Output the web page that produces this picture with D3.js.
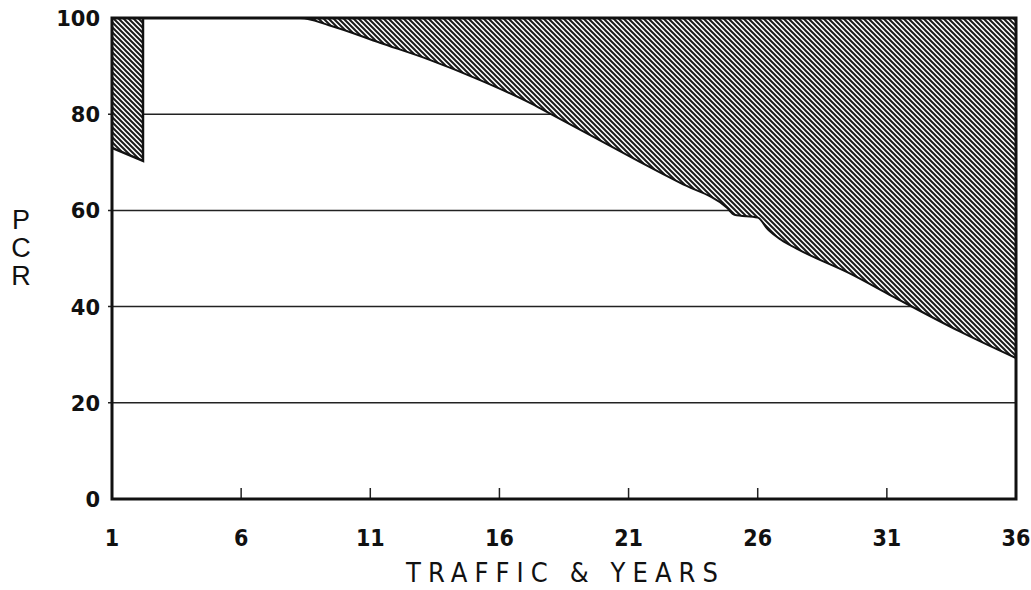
<!DOCTYPE html>
<html>
<head>
<meta charset="utf-8">
<script src="https://cdn.jsdelivr.net/npm/d3@7"></script>
<style>
  body { margin: 0; background: #fff; }
  text { fill: #111; }
</style>
</head>
<body>
<script>
// data
let xTicks = [1, 6, 11, 16, 21, 26, 31, 36]
let yTicks = [0, 20, 40, 60, 80, 100]
let gridValues = [20, 40, 60, 80]

// short block at the start (years 1 - 2.2)
let earlyYears = [1, 2.2]
let earlyPcr = [73.0, 70.3]

// main PCR curve
let years = [2.2, 8.3, 9.4, 11.4, 13.3, 15.25, 17.2, 17.8, 21.4, 23.0, 24.8, 25.1, 26.0, 26.4, 26.9, 27.6, 29.6, 31.2, 33.8, 36]
let pcr = [100, 100, 98.5, 94.8, 91.3, 87.1, 82.3, 80.6, 70.2, 65.7, 60.6, 59.1, 58.5, 56.0, 53.9, 51.8, 46.8, 42.2, 34.9, 29.3]

let width = 1031, height = 590
let plotLeft = 112, plotRight = 1016, plotTop = 18, plotBottom = 499

let svg = d3.select('body').append('svg')
    .attr('width', width)
    .attr('height', height)

let x = d3.scaleLinear().domain([1, 36]).range([plotLeft, plotRight])
let y = d3.scaleLinear().domain([0, 100]).range([plotBottom, plotTop])

// hatch pattern
let defs = svg.append('defs')
let pat = defs.append('pattern')
    .attr('id', 'hatch')
    .attr('patternUnits', 'userSpaceOnUse')
    .attr('width', 5).attr('height', 5)
pat.append('rect').attr('width', 5).attr('height', 5).attr('fill', '#fff')
pat.append('path')
    .attr('d', 'M-1,-1 L6,6 M-1,4 L1,6 M4,-1 L6,1')
    .attr('stroke', '#1a1a1a')
    .attr('stroke-width', 2)

// grid lines
svg.selectAll('.grid')
    .data(gridValues)
    .enter()
    .append('line')
    .attr('x1', plotLeft - 4).attr('x2', plotRight)
    .attr('y1', d => y(d)).attr('y2', d => y(d))
    .attr('stroke', '#222')
    .attr('stroke-width', 1.5)

let area = d3.area()
    .x(d => x(d[0]))
    .y0(y(100))
    .y1(d => y(d[1]))

let early = earlyYears.map((d, i) => [d, earlyPcr[i]])
let main = years.map((d, i) => [d, pcr[i]])

svg.append('path')
    .datum(early)
    .attr('d', area)
    .attr('fill', 'url(#hatch)')
svg.append('path')
    .datum(main)
    .attr('d', area.curve(d3.curveMonotoneX))
    .attr('fill', 'url(#hatch)')

// outline of the curves
let line = d3.line().x(d => x(d[0])).y(d => y(d[1]))
svg.append('path')
    .datum([[earlyYears[0], earlyPcr[0]], [earlyYears[1], earlyPcr[1]], [earlyYears[1], 100]])
    .attr('d', line)
    .attr('fill', 'none')
    .attr('stroke', '#111')
    .attr('stroke-width', 2.5)
svg.append('path')
    .datum(main)
    .attr('d', line.curve(d3.curveMonotoneX))
    .attr('fill', 'none')
    .attr('stroke', '#111')
    .attr('stroke-width', 2)

// x ticks on the bottom line
svg.selectAll('.xtick')
    .data(xTicks.slice(1, -1))
    .enter()
    .append('line')
    .attr('x1', d => x(d)).attr('x2', d => x(d))
    .attr('y1', plotBottom).attr('y2', plotBottom - 11)
    .attr('stroke', '#222')
    .attr('stroke-width', 1.5)

// frame
svg.append('rect')
    .attr('x', plotLeft).attr('y', plotTop)
    .attr('width', plotRight - plotLeft).attr('height', plotBottom - plotTop)
    .attr('fill', 'none')
    .attr('stroke', '#111')
    .attr('stroke-width', 3)

// tick labels
svg.selectAll('.ylab')
    .data(yTicks)
    .enter()
    .append('text')
    .attr('x', plotLeft - 12)
    .attr('y', d => y(d) + 8)
    .attr('text-anchor', 'end')
    .attr('font-family', 'DejaVu Sans')
    .attr('font-weight', 'bold')
    .attr('font-size', 21)
    .text(d => d)

svg.selectAll('.xlab')
    .data(xTicks)
    .enter()
    .append('text')
    .attr('x', d => x(d))
    .attr('y', 546)
    .attr('text-anchor', 'middle')
    .attr('font-family', 'DejaVu Sans Condensed')
    .attr('font-weight', 'bold')
    .attr('font-size', 23)
    .text(d => d)

// axis titles
svg.append('text')
    .attr('x', 562).attr('y', 582)
    .attr('text-anchor', 'middle')
    .attr('font-family', 'DejaVu Sans Condensed')
    .attr('font-size', 27)
    .attr('textLength', 312)
    .attr('lengthAdjust', 'spacing')
    .text('TRAFFIC & YEARS')

svg.selectAll('.ytitle')
    .data(['P', 'C', 'R'])
    .enter()
    .append('text')
    .attr('x', 21)
    .attr('y', (d, i) => 229 + i * 28)
    .attr('text-anchor', 'middle')
    .attr('font-family', 'Liberation Sans')
    .attr('font-size', 27)
    .text(d => d)
</script>
</body>
</html>
